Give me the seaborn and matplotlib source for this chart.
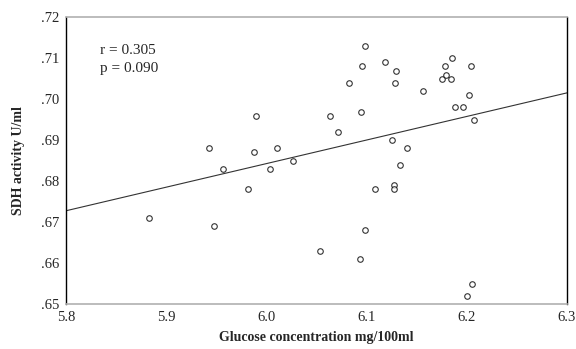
import numpy as np
import pandas as pd
import seaborn as sns
import matplotlib
matplotlib.use("Agg")
import matplotlib.pyplot as plt
from matplotlib.ticker import FuncFormatter

glucose = [5.883, 5.943, 5.948, 5.957, 5.982, 5.988, 5.990, 6.004, 6.011, 6.027,
           6.053, 6.063, 6.071, 6.082, 6.094, 6.095, 6.098, 6.093, 6.098, 6.108,
           6.118, 6.128, 6.129, 6.125, 6.127, 6.127, 6.133, 6.140, 6.156, 6.175,
           6.178, 6.179, 6.184, 6.185, 6.188, 6.196, 6.202, 6.204, 6.207, 6.205,
           6.200]
sdh = [.671, .688, .669, .683, .678, .687, .696, .683, .688, .685,
       .663, .696, .692, .704, .697, .708, .713, .661, .668, .678,
       .709, .704, .707, .690, .679, .678, .684, .688, .702, .705,
       .708, .706, .705, .710, .698, .698, .701, .708, .695, .655,
       .652]
x_ticks = [5.8, 5.9, 6.0, 6.1, 6.2, 6.3]
y_ticks = [.65, .66, .67, .68, .69, .70, .71, .72]
stats_text = ["r = 0.305", "p = 0.090"]

df = pd.DataFrame({"glucose": glucose, "sdh": sdh})

sns.set_style("white")
plt.rcParams['font.family'] = ['Liberation Serif', 'DejaVu Serif']

fig = plt.figure(figsize=(5.76, 3.49), dpi=100)
ax = fig.add_axes([66/576, 1-304/349, (567-66)/576, (304-17.3)/349])
ax.set_xlim(5.8, 6.3)
ax.set_ylim(.65, .72)

sns.regplot(data=df, x="glucose", y="sdh", ax=ax, ci=None, truncate=False,
            scatter_kws=dict(s=16, facecolors="white", edgecolors="black", linewidths=0.8),
            line_kws=dict(color="#333333", linewidth=0.8))

ax.set_xlim(5.8, 6.3)
ax.set_ylim(.65, .72)
ax.set_xticks(x_ticks)
ax.set_yticks(y_ticks)
ax.xaxis.set_major_formatter(FuncFormatter(lambda v, p: f"{v:.1f}"))
ax.yaxis.set_major_formatter(FuncFormatter(lambda v, p: f"{v:.2f}".lstrip("0")))
ax.tick_params(axis="both", labelsize=10.5, length=3, width=1.2, color="black", pad=2)

for side in ["left", "right"]:
    ax.spines[side].set_color("black")
    ax.spines[side].set_linewidth(1.0)
for side in ["top", "bottom"]:
    ax.spines[side].set_color("#b0b0b0")
    ax.spines[side].set_linewidth(1.2)

ax.set_xlabel("Glucose concentration mg/100ml", fontsize=10, fontweight="bold", labelpad=5)
ax.set_ylabel("SDH activity U/ml", fontsize=10, fontweight="bold", labelpad=11)

ax.text(0.068, 0.885, stats_text[0], transform=ax.transAxes, fontsize=11, va="center")
ax.text(0.068, 0.822, stats_text[1], transform=ax.transAxes, fontsize=11, va="center")

fig.savefig("out.png", dpi=100)
